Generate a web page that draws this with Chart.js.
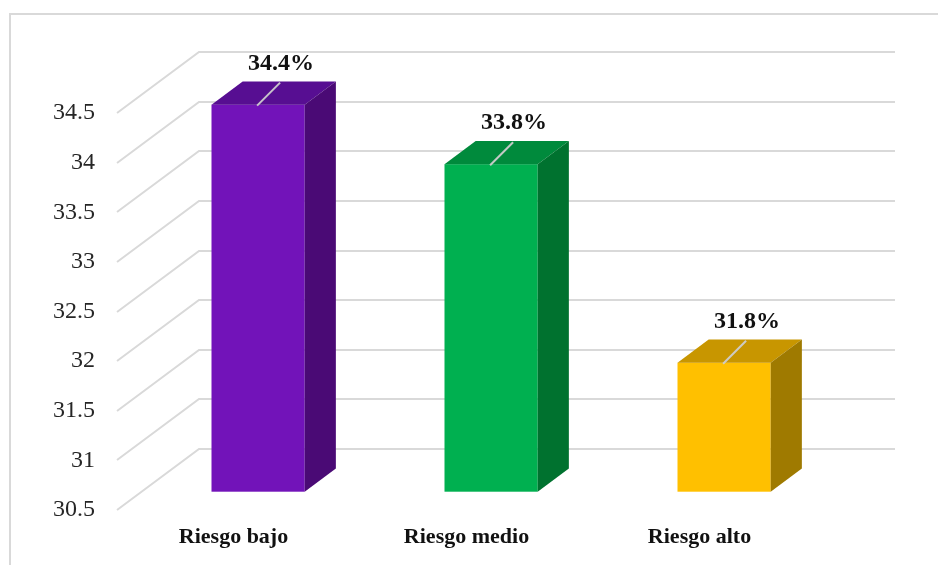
<!DOCTYPE html>
<html>
<head>
<meta charset="utf-8">
<script src="https://cdn.jsdelivr.net/npm/chart.js@4"></script>
<style>
  html, body { margin: 0; padding: 0; background: #ffffff; }
  #wrap { width: 938px; height: 565px; position: relative; }
</style>
</head>
<body>
<div id="wrap"><canvas id="c" width="938" height="565"></canvas></div>
<script>
// Risk levels and their shares (%)
const categories = ['Riesgo bajo', 'Riesgo medio', 'Riesgo alto'];
const values = [34.4, 33.8, 31.8];
const yTicks = [30.5, 31, 31.5, 32, 32.5, 33, 33.5, 34, 34.5];

// Face colours for each bar: front, top, side
const frontColors = ['#7213B9', '#00B050', '#FFC000'];
const topColors   = ['#570E92', '#008A3C', '#C89600'];
const sideColors  = ['#4A0A75', '#00722F', '#9F7A00'];

// Pseudo-3D look: back wall offset and where bars sit in depth
const DEPTH_X = 82, DEPTH_Y = 61;
const BAR_FRONT = 0.30, BAR_DEPTH = 0.38;

const frame3d = {
  id: 'frame3d',
  beforeDatasetsDraw(chart) {
    const { ctx, chartArea, scales } = chart;
    const y = scales.y;
    ctx.save();
    // outer frame
    ctx.strokeStyle = '#d9d9d9';
    ctx.lineWidth = 2;
    ctx.strokeRect(10, 14, 940, 570);
    // gridlines folded over the side and back walls
    ctx.lineWidth = 2;
    y.ticks.forEach(t => {
      const py = Math.round(y.getPixelForValue(t.value));
      ctx.beginPath();
      ctx.moveTo(chartArea.left, py);
      ctx.lineTo(chartArea.left + DEPTH_X, py - DEPTH_Y);
      ctx.lineTo(chartArea.right + DEPTH_X - 3, py - DEPTH_Y);
      ctx.stroke();
    });
    ctx.restore();
  },
  afterDatasetsDraw(chart) {
    const { ctx } = chart;
    const meta = chart.getDatasetMeta(0);
    const fx = BAR_FRONT * DEPTH_X, fy = -BAR_FRONT * DEPTH_Y;
    const dx = BAR_DEPTH * DEPTH_X, dy = -BAR_DEPTH * DEPTH_Y;
    ctx.save();
    meta.data.forEach((bar, i) => {
      const { x, y, base, width } = bar.getProps(['x', 'y', 'base', 'width'], true);
      const l = x - width / 2 + fx, r = x + width / 2 + fx;
      const t = y + fy, b = base + fy;
      // front face
      ctx.fillStyle = frontColors[i];
      ctx.fillRect(l, t, r - l, b - t);
      // top face
      ctx.fillStyle = topColors[i];
      ctx.beginPath();
      ctx.moveTo(l, t); ctx.lineTo(r, t); ctx.lineTo(r + dx, t + dy); ctx.lineTo(l + dx, t + dy);
      ctx.closePath(); ctx.fill();
      // side face
      ctx.fillStyle = sideColors[i];
      ctx.beginPath();
      ctx.moveTo(r, t); ctx.lineTo(r + dx, t + dy); ctx.lineTo(r + dx, b + dy); ctx.lineTo(r, b);
      ctx.closePath(); ctx.fill();

      // leader line and value label
      const cx = (l + r) / 2;
      ctx.strokeStyle = 'rgba(205,205,205,0.95)';
      ctx.lineWidth = 2;
      ctx.beginPath();
      ctx.moveTo(cx - 1, t + 1);
      ctx.lineTo(cx + 22, t - 22);
      ctx.stroke();
      ctx.fillStyle = '#111111';
      ctx.font = 'bold 24px "Liberation Serif", "Times New Roman", serif';
      ctx.textAlign = 'center';
      ctx.textBaseline = 'middle';
      ctx.fillText(values[i].toFixed(1) + '%', cx + 23, t - 41);
    });
    ctx.restore();
  }
};

new Chart(document.getElementById('c'), {
  type: 'bar',
  data: {
    labels: categories,
    datasets: [{
      data: values,
      base: yTicks[0],
      backgroundColor: 'rgba(0,0,0,0)',
      borderWidth: 0,
      categoryPercentage: 1.0,
      barPercentage: 0.4
    }]
  },
  options: {
    responsive: false,
    animation: false,
    devicePixelRatio: 1,
    layout: { padding: { top: 113, right: 122, left: 0, bottom: 0 } },
    plugins: { legend: { display: false }, tooltip: { enabled: false } },
    scales: {
      y: {
        min: 30.5,
        max: 34.5,
        afterBuildTicks(scale) { scale.ticks = yTicks.map(v => ({ value: v })); },
        afterFit(scale) { scale.width = 117; },
        grid: { display: false, drawTicks: false },
        border: { display: false },
        ticks: {
          padding: 22,
          color: '#262626',
          callback: v => String(v),
          font: { family: '"Liberation Serif", "Times New Roman", serif', size: 24 }
        }
      },
      x: {
        afterFit(scale) { scale.height = 55; },
        grid: { display: false, drawTicks: false },
        border: { display: false },
        ticks: {
          padding: 14,
          color: '#111111',
          font: { family: '"Liberation Serif", "Times New Roman", serif', size: 22, weight: 'bold' }
        }
      }
    }
  },
  plugins: [frame3d]
});
</script>
</body>
</html>
